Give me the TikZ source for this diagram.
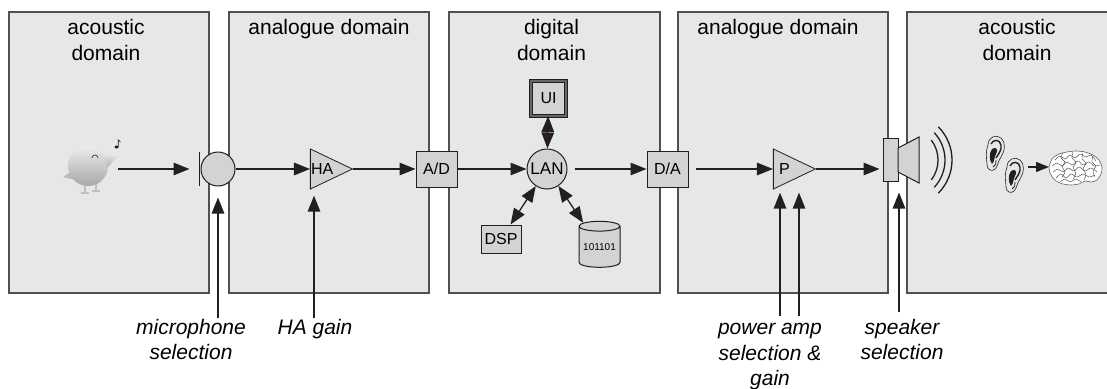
\documentclass[tikz,border=0pt]{standalone}
\usepackage{fontspec}
\setmainfont{Liberation Sans}
\usetikzlibrary{positioning,shapes.geometric,arrows.meta}
\definecolor{panelfill}{RGB}{230,231,232}
\definecolor{paneledge}{RGB}{80,80,82}
\definecolor{blockfill}{RGB}{209,211,212}
\definecolor{ink}{RGB}{35,31,32}
\definecolor{brainedge}{RGB}{120,90,70}

\begin{document}
\begin{tikzpicture}[x=1pt,y=-1pt,
  >={Triangle[length=16pt,width=12.5pt]},
  panel/.style={shape=rectangle,draw=paneledge,fill=panelfill,line width=1.3pt,minimum height=281pt,inner sep=0pt},
  ptitle/.style={font=\fontsize{21}{26}\selectfont,align=center,inner sep=0pt},
  proc/.style={shape=rectangle,draw=ink,fill=blockfill,line width=1pt,inner sep=0pt,font=\fontsize{16}{18}\selectfont},
  amp/.style={shape=isosceles triangle,isosceles triangle stretches,draw=ink,fill=blockfill,line width=0.8pt,
    minimum width=40pt,minimum height=42pt,inner sep=0pt},
  amplabel/.style={anchor=west,font=\fontsize{16}{18}\selectfont},
  flow/.style={draw=ink,->,line width=1.3pt},
  link/.style={draw=ink,<->,line width=1.3pt},
  ctrl/.style={font=\fontsize{21}{25.5}\selectfont\itshape,align=center,inner sep=0pt,anchor=north},
  gyrus/.style={draw=ink!80,line width=0.45pt},
  earpic/.pic={
    \draw[ink,line width=0.6pt] (4,10) .. controls (4,2) and (12,-1) .. (17,3)
      .. controls (22,7) and (21,16) .. (17,22) .. controls (14,26) and (14,31) .. (11,34)
      .. controls (8,37) and (3,35) .. (3,30) .. controls (3,26) and (1,18) .. (4,10) -- cycle;
    \draw[ink,line width=1.4pt] (7,9) .. controls (9,4) and (16,4) .. (17,10)
      .. controls (18,16) and (14,19) .. (12,23);
    \fill[ink] (8,14) .. controls (12,11) and (15,15) .. (12,19) .. controls (10,22) and (11,26) .. (8,29)
      .. controls (5,25) and (5,18) .. (8,14) -- cycle;
    \draw[ink,line width=0.8pt] (12,25) .. controls (13,28) and (11,31) .. (9,32);
  }
]
  \useasboundingbox (0,0) rectangle (1107,388);
  \clip (0,0) rectangle (1107,388);

  \node[panel,minimum width=200pt] (acIn)  at (109,152.5)  {};
  \node[panel,minimum width=200pt] (anIn)  at (329,152.5)  {};
  \node[panel,minimum width=211pt] (dig)   at (554.5,152.5) {};
  \node[panel,minimum width=210pt] (anOut) at (783,152.5)  {};
  \node[panel,minimum width=240pt] (acOut) at (1027,152.5) {};

  \node[ptitle,below=8pt of acIn.north,xshift=-3pt]  (acInTitle)  {acoustic\\domain};
  \node[ptitle,below=8pt of anIn.north]              (anInTitle)  {analogue domain};
  \node[ptitle,below=8pt of dig.north,xshift=-3pt]   (digTitle)   {digital\\domain};
  \node[ptitle,below=8pt of anOut.north,xshift=-5pt] (anOutTitle) {analogue domain};
  \node[ptitle,below=8pt of acOut.north,xshift=-10pt] (acOutTitle) {acoustic\\domain};

  % singing bird
  \fill[gray!55] (63,177) -- (75,169) -- (80,181) -- cycle;
  \shade[top color=gray!15,bottom color=gray!68] (88,166) circle[radius=20pt];
  \shade[top color=gray!25,bottom color=gray!60] (105,155) -- (117,157) -- (107,168) -- cycle;
  \draw[gray!50,line width=1.2pt] (85,185) -- (85,193) (81,193) -- (89,193)
    (96,184) -- (96,191) (92,191) -- (100,191);
  \draw[ink,line width=0.6pt] (92,158) arc[start angle=180,end angle=0,radius=3pt];
  \fill[ink] (116.5,147) ellipse[x radius=2pt,y radius=1.5pt];
  \draw[ink,line width=0.7pt] (118.3,147) -- (118.3,140) -- (120.5,142);
  \coordinate (birdOut) at (118,169);

  \node[proc,circle,minimum size=34pt] (mic) at (218,169) {};
  \draw[ink,line width=1.2pt] ([xshift=-1pt]mic.west) ++(0,-17) -- ++(0,34);
  \node[amp,label={[amplabel,inner sep=1pt]west:HA}] (ha) at (323,169) {};
  \node[proc,minimum width=41pt,minimum height=36pt] (ad) at (436.5,169) {A/D};

  \node[proc,circle,minimum size=40pt,font=\fontsize{17}{19}\selectfont] (lan) at (547,169) {LAN};
  \node[proc,minimum size=35pt,double=black!60,double distance=2pt] (ui) at (548.5,98) {UI};
  \node[proc,minimum width=40pt,minimum height=28pt] (dsp) at (501,239) {DSP};
  \node[proc,cylinder,shape border rotate=90,aspect=0.3,minimum width=41pt,minimum height=46pt,
    font=\fontsize{10}{12}\selectfont] (store) at (599.5,247) {101101};

  \node[proc,minimum width=41pt,minimum height=36pt] (da) at (667.5,169) {D/A};
  \node[amp,label={[amplabel,inner sep=6pt]west:P}] (pa) at (786,169) {};

  % loudspeaker
  \node[proc,minimum width=15pt,minimum height=43pt] (spk) at (890.5,159.5) {};
  \draw[ink,fill=blockfill,line width=1pt] (898,148) -- (919,137) -- (919,183) -- (898,172) -- cycle;
  \foreach \r/\a in {33/37,40/43,47/45}
    \draw[ink,line width=1.3pt] (905,160) ++(-\a:\r pt) arc[start angle=-\a,end angle=\a,radius=\r pt];

  % listener
  \pic at (984,135) {earpic};
  \pic at (1003,157) {earpic};
  \coordinate (earOut) at (1028,167);
  \begin{scope}[shift={(1049,151)}]
    \draw[brainedge,line width=0.6pt,fill=white] plot[smooth cycle] coordinates {(0,17) (3,8) (10,3) (18,1) (27,0)
      (36,1) (44,4) (50,9) (53,16) (52,23) (48,29) (42,31) (36,30) (30,33) (22,34) (14,33) (7,30) (2,24)};
    \draw[gyrus] plot[smooth] coordinates {(6,9) (11,5) (16,8) (21,4) (26,7) (31,3) (37,6) (42,4) (47,10)};
    \draw[gyrus] plot[smooth] coordinates {(3,15) (8,12) (13,15) (18,11) (23,14) (29,10) (34,14) (40,11) (45,15) (51,14)};
    \draw[gyrus] plot[smooth] coordinates {(4,21) (9,18) (14,21) (19,17) (25,20) (30,16) (36,20) (42,17) (48,21)};
    \draw[gyrus] plot[smooth] coordinates {(7,27) (12,23) (17,27) (22,23) (28,26) (34,23) (40,26) (46,24)};
    \draw[gyrus] plot[smooth] coordinates {(11,31) (16,28) (21,31) (27,28) (32,31)};
    \draw[gyrus] plot[smooth] coordinates {(14,2) (12,7) (16,11) (13,16) (16,21) (13,26)};
    \draw[gyrus] plot[smooth] coordinates {(24,1) (23,7) (27,11) (24,17) (27,22) (24,28)};
    \draw[gyrus] plot[smooth] coordinates {(34,2) (33,8) (37,12) (34,18) (37,23) (35,29)};
    \draw[gyrus] plot[smooth] coordinates {(44,5) (43,11) (47,15) (44,20) (46,26)};
  \end{scope}
  \coordinate (brainIn) at (1049,167);

  \draw[flow,shorten >=11pt] (birdOut) -- (mic.west);
  \draw[flow] (mic) -- (ha);
  \draw[flow] (ha) -- (ad);
  \draw[flow] (ad) -- (lan);
  \draw[flow,shorten <=7pt] (lan) -- (da);
  \draw[flow,shorten <=7pt] (da) -- (pa);
  \draw[flow,shorten >=3pt] (pa.apex) -- (spk.west |- pa.apex);
  \draw[link] (ui) -- (lan);
  \draw[link] (dsp) -- (lan);
  \draw[link] (lan) -- (store);
  \draw[flow,>={Triangle[length=13pt,width=10pt]}] (earOut) -- (brainIn);

  \node[ctrl] (micSel) at (191,319) {microphone\\selection};
  \node[ctrl] (haGain) at (315,319) {HA gain};
  \node[ctrl] (pwrSel) at (770,323) {power amp\\selection \&\\gain};
  \node[ctrl] (spkSel) at (902,319) {speaker\\selection};

  \coordinate (micTail) at (218,318);
  \coordinate (haTail) at (314,318);
  \coordinate (pwrTailA) at (780,316);
  \coordinate (pwrTailB) at (799,316);
  \coordinate (spkTail) at (899,312);

  \draw[flow,shorten >=11pt] (micTail) -- (mic.south);
  \draw[flow,shorten >=6pt] (haTail) -- (haTail |- ha.right corner);
  \draw[flow,shorten >=3pt] (pwrTailA) -- (pwrTailA |- pa.right corner);
  \draw[flow,shorten >=3pt] (pwrTailB) -- (pwrTailB |- pa.right corner);
  \draw[flow,shorten >=11pt] (spkTail) -- (spkTail |- spk.south);
\end{tikzpicture}
\end{document}
